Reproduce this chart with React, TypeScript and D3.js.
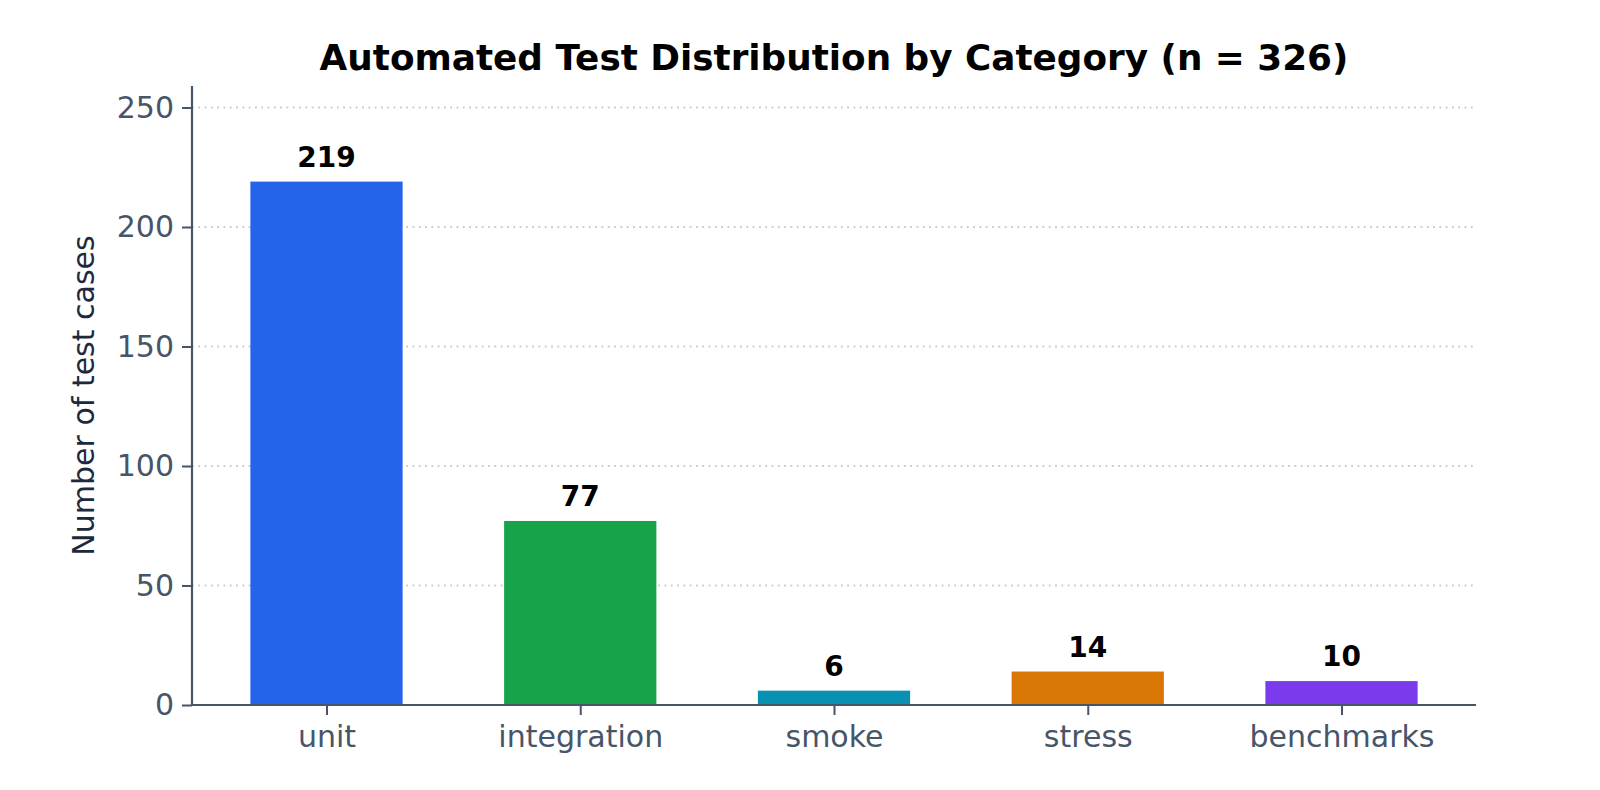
import React, { useEffect, useRef } from 'react';
import * as d3 from 'd3';

const categories = ['unit', 'integration', 'smoke', 'stress', 'benchmarks'];
const counts = [219, 77, 6, 14, 10];
const barColors = ['#2563eb', '#16a34a', '#0891b2', '#d97706', '#7c3aed'];
const yTickValues = [0, 50, 100, 150, 200, 250];
const title = 'Automated Test Distribution by Category (n = 326)';
const yLabel = 'Number of test cases';

const App: React.FC = () => {
  const svgRef = useRef<SVGSVGElement>(null);

  useEffect(() => {
    if (!svgRef.current) return;

    const width = 1600;
    const height = 790;
    const margin = { top: 86, right: 124, bottom: 85, left: 192 };
    const innerW = width - margin.left - margin.right;
    const innerH = height - margin.top - margin.bottom;
    const font = '"DejaVu Sans", sans-serif';

    const svg = d3.select(svgRef.current).attr('width', width).attr('height', height);
    svg.selectAll('*').remove();

    const g = svg.append('g').attr('transform', `translate(${margin.left},${margin.top})`);

    // matplotlib-style linear x axis: bars at integer positions, width 0.6
    const x = d3.scaleLinear().domain([-0.53, categories.length - 1 + 0.53]).range([0, innerW]);
    const barW = x(0.6) - x(0);

    const y = d3.scaleLinear().domain([0, 259]).range([innerH, 0]);

    // grid
    g.selectAll('.grid-line')
      .data(yTickValues.filter((t) => t > 0))
      .enter()
      .append('line')
      .attr('x1', 0)
      .attr('x2', innerW)
      .attr('y1', (d) => y(d))
      .attr('y2', (d) => y(d))
      .attr('stroke', '#c6ccd3')
      .attr('stroke-width', 1.8)
      .attr('stroke-dasharray', '1.8 4.5');

    // bars
    g.selectAll('.bar')
      .data(counts)
      .enter()
      .append('rect')
      .attr('x', (_, i) => x(i) - barW / 2)
      .attr('y', (d) => y(d))
      .attr('width', barW)
      .attr('height', (d) => y(0) - y(d))
      .attr('fill', (_, i) => barColors[i]);

    // value labels
    g.selectAll('.bar-label')
      .data(counts)
      .enter()
      .append('text')
      .attr('x', (_, i) => x(i))
      .attr('y', (d) => y(d) - 15)
      .attr('text-anchor', 'middle')
      .attr('font-family', font)
      .attr('font-weight', 'bold')
      .attr('font-size', 28)
      .attr('fill', '#000')
      .text((d) => d);

    // x axis
    const xAxis = g
      .append('g')
      .attr('transform', `translate(0,${innerH})`)
      .call(
        d3
          .axisBottom(x)
          .tickValues(d3.range(categories.length))
          .tickFormat((d) => categories[d as number])
          .tickSize(10)
          .tickPadding(9),
      );

    // y axis
    const yAxis = g.append('g').call(
      d3.axisLeft(y).tickValues(yTickValues).tickFormat(d3.format('d')).tickSize(10).tickPadding(8),
    );

    [xAxis, yAxis].forEach((ax) => {
      ax.select('.domain').attr('stroke', '#475569').attr('stroke-width', 2.2);
      ax.selectAll('.tick line').attr('stroke', '#475569').attr('stroke-width', 2);
      ax.selectAll('.tick text')
        .attr('fill', '#475569')
        .attr('font-family', font)
        .attr('font-size', 30);
    });
    xAxis.select('.domain').attr('d', `M0,0H${innerW}`);
    yAxis.select('.domain').attr('d', `M0,${innerH}V0`);
    xAxis.selectAll('.tick text').attr('dy', '0.75em');

    // y label
    svg
      .append('text')
      .attr('transform', `translate(94,${margin.top + innerH / 2}) rotate(-90)`)
      .attr('text-anchor', 'middle')
      .attr('font-family', font)
      .attr('font-size', 30)
      .attr('fill', '#1e293b')
      .text(yLabel);

    // title
    svg
      .append('text')
      .attr('x', margin.left + innerW / 2)
      .attr('y', 70)
      .attr('text-anchor', 'middle')
      .attr('font-family', font)
      .attr('font-weight', 'bold')
      .attr('font-size', 35.8)
      .attr('fill', '#000')
      .text(title);
  }, []);

  return (
    <svg
      ref={svgRef}
      style={{ position: 'absolute', left: 0, top: 0, display: 'block', background: '#fff' }}
    ></svg>
  );
};

export default App;
